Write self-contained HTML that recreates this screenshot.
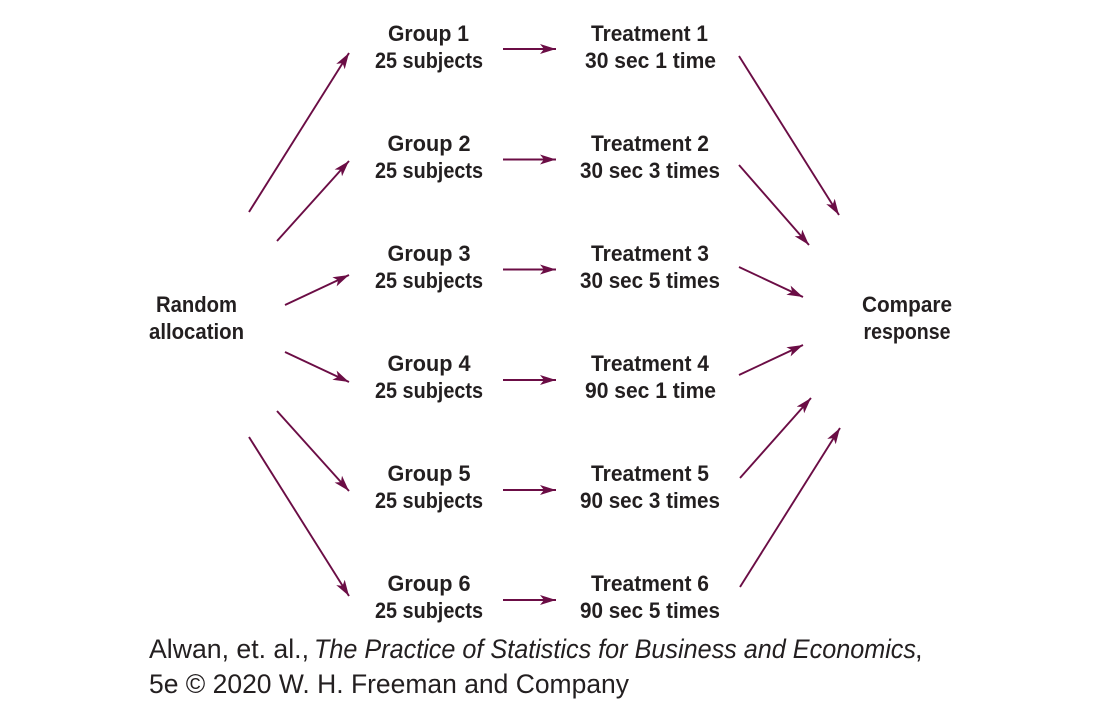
<!DOCTYPE html>
<html lang="en">
<head>
<meta charset="utf-8">
<title>Experiment design diagram</title>
<style>
html,body{margin:0;padding:0;background:#fff;width:1100px;height:722px;overflow:hidden}
svg{display:block}
.n{font-family:"Liberation Sans",sans-serif;font-weight:700;font-size:22px;fill:#231f20;text-anchor:middle}
.f{font-family:"Liberation Sans",sans-serif;font-size:27px;fill:#231f20}
.a{stroke:#6b0d45;stroke-width:1.9;fill:none;marker-end:url(#head)}
</style>
</head>
<body>
<svg xmlns="http://www.w3.org/2000/svg" width="1100" height="722" viewBox="0 0 1100 722">
<defs>
<marker id="head" markerUnits="userSpaceOnUse" markerWidth="18" markerHeight="12" refX="16" refY="6" orient="auto">
<path d="M0 1 L16 6 L0 11 L4 6 Z" fill="#6b0d45"/>
</marker>
</defs>

<text class="n" x="196.5" y="312" textLength="81" lengthAdjust="spacingAndGlyphs">Random</text>
<text class="n" x="196.5" y="339" textLength="95" lengthAdjust="spacingAndGlyphs">allocation</text>
<text class="n" x="907" y="312" textLength="90" lengthAdjust="spacingAndGlyphs">Compare</text>
<text class="n" x="907" y="339" textLength="87" lengthAdjust="spacingAndGlyphs">response</text>

<line class="a" x1="249" y1="212" x2="349" y2="53"/>
<line class="a" x1="277" y1="241" x2="349" y2="161"/>
<line class="a" x1="285" y1="305" x2="349" y2="275"/>
<line class="a" x1="285" y1="352" x2="349" y2="382"/>
<line class="a" x1="277" y1="411" x2="349" y2="491"/>
<line class="a" x1="249" y1="437" x2="349" y2="596"/>

<g>
<text class="n" x="428.5" y="41" textLength="81" lengthAdjust="spacingAndGlyphs">Group 1</text>
<text class="n" x="429" y="68" textLength="108" lengthAdjust="spacingAndGlyphs">25 subjects</text>
</g>
<g>
<text class="n" x="429" y="151" textLength="83" lengthAdjust="spacingAndGlyphs">Group 2</text>
<text class="n" x="429" y="178" textLength="108" lengthAdjust="spacingAndGlyphs">25 subjects</text>
</g>
<g>
<text class="n" x="429" y="261" textLength="83" lengthAdjust="spacingAndGlyphs">Group 3</text>
<text class="n" x="429" y="288" textLength="108" lengthAdjust="spacingAndGlyphs">25 subjects</text>
</g>
<g>
<text class="n" x="429" y="371" textLength="83" lengthAdjust="spacingAndGlyphs">Group 4</text>
<text class="n" x="429" y="398" textLength="108" lengthAdjust="spacingAndGlyphs">25 subjects</text>
</g>
<g>
<text class="n" x="429" y="481" textLength="83" lengthAdjust="spacingAndGlyphs">Group 5</text>
<text class="n" x="429" y="508" textLength="108" lengthAdjust="spacingAndGlyphs">25 subjects</text>
</g>
<g>
<text class="n" x="429" y="591" textLength="83" lengthAdjust="spacingAndGlyphs">Group 6</text>
<text class="n" x="429" y="618" textLength="108" lengthAdjust="spacingAndGlyphs">25 subjects</text>
</g>

<line class="a" x1="503" y1="49" x2="556" y2="49"/>
<line class="a" x1="503" y1="159.5" x2="556" y2="159.5"/>
<line class="a" x1="503" y1="269.5" x2="556" y2="269.5"/>
<line class="a" x1="503" y1="380" x2="556" y2="380"/>
<line class="a" x1="503" y1="490" x2="556" y2="490"/>
<line class="a" x1="503" y1="600" x2="556" y2="600"/>

<g>
<text class="n" x="649.5" y="41" textLength="117" lengthAdjust="spacingAndGlyphs">Treatment 1</text>
<text class="n" x="650.5" y="68" textLength="131" lengthAdjust="spacingAndGlyphs">30 sec 1 time</text>
</g>
<g>
<text class="n" x="650" y="151" textLength="118" lengthAdjust="spacingAndGlyphs">Treatment 2</text>
<text class="n" x="650" y="178" textLength="140" lengthAdjust="spacingAndGlyphs">30 sec 3 times</text>
</g>
<g>
<text class="n" x="650" y="261" textLength="118" lengthAdjust="spacingAndGlyphs">Treatment 3</text>
<text class="n" x="650" y="288" textLength="140" lengthAdjust="spacingAndGlyphs">30 sec 5 times</text>
</g>
<g>
<text class="n" x="650" y="371" textLength="118" lengthAdjust="spacingAndGlyphs">Treatment 4</text>
<text class="n" x="650.5" y="398" textLength="131" lengthAdjust="spacingAndGlyphs">90 sec 1 time</text>
</g>
<g>
<text class="n" x="650" y="481" textLength="118" lengthAdjust="spacingAndGlyphs">Treatment 5</text>
<text class="n" x="650" y="508" textLength="140" lengthAdjust="spacingAndGlyphs">90 sec 3 times</text>
</g>
<g>
<text class="n" x="650" y="591" textLength="118" lengthAdjust="spacingAndGlyphs">Treatment 6</text>
<text class="n" x="650" y="618" textLength="140" lengthAdjust="spacingAndGlyphs">90 sec 5 times</text>
</g>

<line class="a" x1="739" y1="56" x2="839" y2="215"/>
<line class="a" x1="739" y1="165" x2="809" y2="245"/>
<line class="a" x1="739" y1="267" x2="803" y2="297"/>
<line class="a" x1="739" y1="375" x2="803" y2="345"/>
<line class="a" x1="740" y1="478" x2="811" y2="398"/>
<line class="a" x1="740" y1="587" x2="840" y2="428"/>

<g>
<text class="f" x="149" y="658" textLength="160" lengthAdjust="spacingAndGlyphs">Alwan, et. al.,</text>
<text class="f" x="314" y="658" textLength="602" lengthAdjust="spacingAndGlyphs" font-style="italic">The Practice of Statistics for Business and Economics</text>
<text class="f" x="915" y="658">,</text>
<text class="f" x="149" y="693" textLength="480" lengthAdjust="spacingAndGlyphs">5e © 2020 W. H. Freeman and Company</text>
</g>
</svg>
</body>
</html>
